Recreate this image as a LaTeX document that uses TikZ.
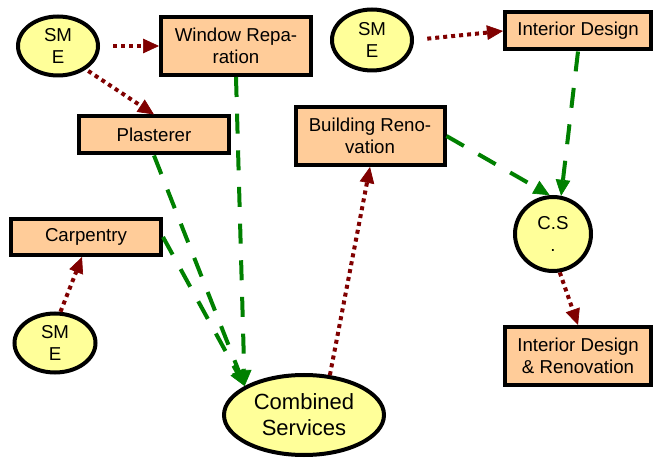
\documentclass[tikz,border=0pt]{standalone}
\usepackage{fontspec}
\setmainfont{Liberation Sans}
\usetikzlibrary{arrows.meta,shapes.geometric}
\definecolor{dred}{HTML}{800000}
\definecolor{dgreen}{HTML}{008000}
\definecolor{peach}{HTML}{FFCC99}
\definecolor{pyellow}{HTML}{FFFF99}
\begin{document}
\begin{tikzpicture}[x=0.75pt,y=-0.75pt,
 box/.style={draw=black,line width=3pt,fill=peach,inner sep=0pt,align=center,font=\fontsize{14}{16.5}\selectfont},
 sme/.style={ellipse,draw=black,line width=3pt,fill=pyellow,inner sep=0pt,align=center,font=\fontsize{14}{16.5}\selectfont},
 redarrow/.style={draw=dred,line width=3pt,dash pattern=on 3pt off 3pt,-{Triangle[length=12pt,width=11pt,line width=0.5pt]}},
 greenarrow/.style={draw=dgreen,line width=3pt,dash pattern=on 15pt off 12.5pt,-{Triangle[length=12pt,width=11pt,line width=0.5pt]}}]
\useasboundingbox (0,0) rectangle (653,459);
\node[sme, minimum width=60pt, minimum height=44.25pt] (smeA) at (58,46) {SM\\E};
\node[box, minimum width=112.5pt, minimum height=43.5pt] (win) at (236,46) {Window Repa-\\ration};
\node[box, minimum width=112.5pt, minimum height=27.75pt] (plast) at (154,135) {Plasterer};
\node[sme, minimum width=60pt, minimum height=45.75pt] (smeB) at (372,40) {SM\\E};
\node[box, minimum width=109.5pt, minimum height=27.75pt] (intd) at (578,31) {Interior Design};
\node[box, minimum width=111.75pt, minimum height=43.5pt] (build) at (370,136) {Building Reno-\\vation};
\node[box, minimum width=112.5pt, minimum height=27pt] (carp) at (86,237) {Carpentry};
\node[sme, minimum width=60.75pt, minimum height=44.25pt] (smeC) at (55,343) {SM\\E};
\node[sme, minimum width=120pt, minimum height=60pt, font=\fontsize{16.5}{19.5}\selectfont] (comb) at (304,415) {Combined\\Services};
\node[sme, minimum width=57pt, minimum height=55.5pt] (cs) at (553,234) {C.S\\.};
\node[box, minimum width=109.5pt, minimum height=43.5pt] (idr) at (578,356) {Interior Design\\\& Renovation};
\draw[redarrow, shorten <=10pt] (smeA.east) -- (win.west);
\draw[redarrow, shorten <=2pt] (smeA.-40) -- (plast.north);
\draw[redarrow, shorten <=10pt] (smeB.east) -- (intd.west);
\draw[redarrow] (smeC.80) -- ([xshift=-3pt]carp.south);
\draw[redarrow] (comb.57) -- (build.south);
\draw[redarrow] (cs.-80) -- (idr.north);
\draw[greenarrow] (win.south) -- (comb.154);
\draw[greenarrow] (plast.south) -- (comb.154);
\draw[greenarrow] (carp.east) -- (comb.154);
\draw[greenarrow] (intd.south) -- (cs.78);
\draw[greenarrow] (build.east) -- (cs.95);
\end{tikzpicture}
\end{document}
